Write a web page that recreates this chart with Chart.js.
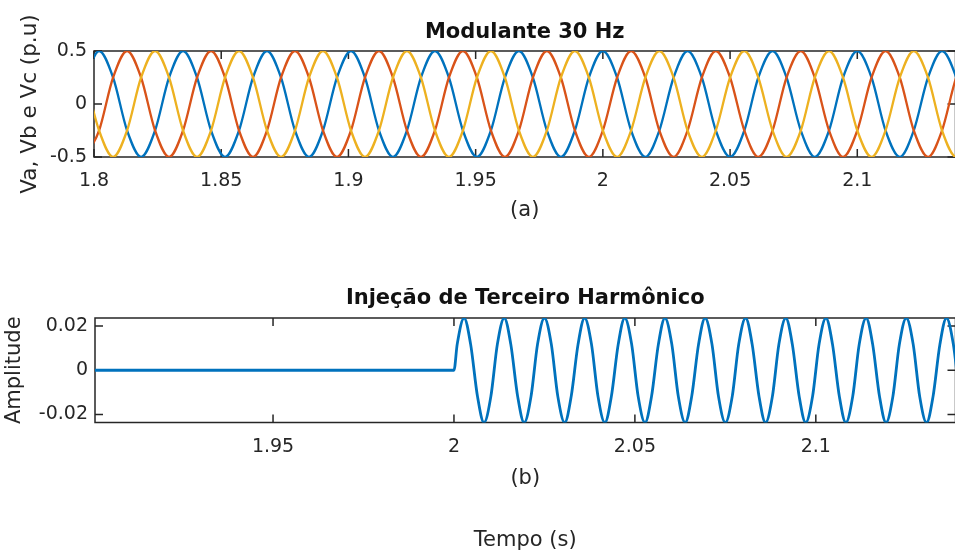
<!DOCTYPE html>
<html lang="pt-BR">
<head>
<meta charset="utf-8">
<title>Modulante 30 Hz</title>
<script src="https://cdn.jsdelivr.net/npm/chart.js@4.4.1/dist/chart.umd.min.js"></script>
<style>
  html, body { margin: 0; padding: 0; background: #fff; }
  body { width: 955px; height: 559px; position: relative; overflow: hidden; }
  canvas { position: absolute; left: 0; }
  #grafico-modulante { top: 0; }
  #grafico-harmonico { top: 240px; }
</style>
</head>
<body>
<canvas id="grafico-modulante" width="960" height="240"></canvas>
<canvas id="grafico-harmonico" width="960" height="319"></canvas>
<script>
// tensões de fase (p.u), uma amostra a cada 60 graus da fundamental
const tempo = [
  1.7965,
  1.8020, 1.8075, 1.8130, 1.8185, 1.8240, 1.8295,
  1.8350, 1.8405, 1.8460, 1.8515, 1.8570, 1.8625,
  1.8680, 1.8735, 1.8790, 1.8845, 1.8900, 1.8955,
  1.9010, 1.9065, 1.9120, 1.9175, 1.9230, 1.9285,
  1.9340, 1.9395, 1.9450, 1.9505, 1.9560, 1.9615,
  1.9670, 1.9725, 1.9780, 1.9835, 1.9890, 1.9945,
  2.0000, 2.0056, 2.0111, 2.0167, 2.0222, 2.0278,
  2.0333, 2.0389, 2.0444, 2.0500, 2.0556, 2.0611,
  2.0667, 2.0722, 2.0778, 2.0833, 2.0889, 2.0944,
  2.1000, 2.1056, 2.1111, 2.1167, 2.1222, 2.1278,
  2.1333, 2.1389, 2.1444
];
const va = [
  0.25,
  0.5, 0.25, -0.25, -0.5, -0.25, 0.25,
  0.5, 0.25, -0.25, -0.5, -0.25, 0.25,
  0.5, 0.25, -0.25, -0.5, -0.25, 0.25,
  0.5, 0.25, -0.25, -0.5, -0.25, 0.25,
  0.5, 0.25, -0.25, -0.5, -0.25, 0.25,
  0.5, 0.25, -0.25, -0.5, -0.25, 0.25,
  0.5, 0.25, -0.25, -0.5, -0.25, 0.25,
  0.5, 0.25, -0.25, -0.5, -0.25, 0.25,
  0.5, 0.25, -0.25, -0.5, -0.25, 0.25,
  0.5, 0.25, -0.25, -0.5, -0.25, 0.25,
  0.5, 0.25, -0.25
];
const vb = [
  -0.5,
  -0.25, 0.25, 0.5, 0.25, -0.25, -0.5,
  -0.25, 0.25, 0.5, 0.25, -0.25, -0.5,
  -0.25, 0.25, 0.5, 0.25, -0.25, -0.5,
  -0.25, 0.25, 0.5, 0.25, -0.25, -0.5,
  -0.25, 0.25, 0.5, 0.25, -0.25, -0.5,
  -0.25, 0.25, 0.5, 0.25, -0.25, -0.5,
  -0.25, 0.25, 0.5, 0.25, -0.25, -0.5,
  -0.25, 0.25, 0.5, 0.25, -0.25, -0.5,
  -0.25, 0.25, 0.5, 0.25, -0.25, -0.5,
  -0.25, 0.25, 0.5, 0.25, -0.25, -0.5,
  -0.25, 0.25, 0.5
];
const vc = [
  0.25,
  -0.25, -0.5, -0.25, 0.25, 0.5, 0.25,
  -0.25, -0.5, -0.25, 0.25, 0.5, 0.25,
  -0.25, -0.5, -0.25, 0.25, 0.5, 0.25,
  -0.25, -0.5, -0.25, 0.25, 0.5, 0.25,
  -0.25, -0.5, -0.25, 0.25, 0.5, 0.25,
  -0.25, -0.5, -0.25, 0.25, 0.5, 0.25,
  -0.25, -0.5, -0.25, 0.25, 0.5, 0.25,
  -0.25, -0.5, -0.25, 0.25, 0.5, 0.25,
  -0.25, -0.5, -0.25, 0.25, 0.5, 0.25,
  -0.25, -0.5, -0.25, 0.25, 0.5, 0.25,
  -0.25, -0.5, -0.25
];

// terceiro harmônico (90 Hz), nulo até 2 s
const tempoH = [
  1.8900, 2.0000,
  2.0009, 2.0028, 2.0046, 2.0065, 2.0083, 2.0102,
  2.0120, 2.0139, 2.0157, 2.0176, 2.0194, 2.0213,
  2.0231, 2.0250, 2.0269, 2.0287, 2.0306, 2.0324,
  2.0343, 2.0361, 2.0380, 2.0398, 2.0417, 2.0435,
  2.0454, 2.0472, 2.0491, 2.0509, 2.0528, 2.0546,
  2.0565, 2.0583, 2.0602, 2.0620, 2.0639, 2.0657,
  2.0676, 2.0694, 2.0713, 2.0731, 2.0750, 2.0769,
  2.0787, 2.0806, 2.0824, 2.0843, 2.0861, 2.0880,
  2.0898, 2.0917, 2.0935, 2.0954, 2.0972, 2.0991,
  2.1009, 2.1028, 2.1046, 2.1065, 2.1083, 2.1102,
  2.1120, 2.1139, 2.1157, 2.1176, 2.1194, 2.1213,
  2.1231, 2.1250, 2.1269, 2.1287, 2.1306, 2.1324,
  2.1343, 2.1361, 2.1380, 2.1398, 2.1417, 2.1435
];
const harmonico = [
  0, 0,
  0.0118, 0.0236, 0.0118, -0.0118, -0.0236, -0.0118,
  0.0118, 0.0236, 0.0118, -0.0118, -0.0236, -0.0118,
  0.0118, 0.0236, 0.0118, -0.0118, -0.0236, -0.0118,
  0.0118, 0.0236, 0.0118, -0.0118, -0.0236, -0.0118,
  0.0118, 0.0236, 0.0118, -0.0118, -0.0236, -0.0118,
  0.0118, 0.0236, 0.0118, -0.0118, -0.0236, -0.0118,
  0.0118, 0.0236, 0.0118, -0.0118, -0.0236, -0.0118,
  0.0118, 0.0236, 0.0118, -0.0118, -0.0236, -0.0118,
  0.0118, 0.0236, 0.0118, -0.0118, -0.0236, -0.0118,
  0.0118, 0.0236, 0.0118, -0.0118, -0.0236, -0.0118,
  0.0118, 0.0236, 0.0118, -0.0118, -0.0236, -0.0118,
  0.0118, 0.0236, 0.0118, -0.0118, -0.0236, -0.0118,
  0.0118, 0.0236, 0.0118, -0.0118, -0.0236, -0.0118
];

const ticksTempoA = [1.8, 1.85, 1.9, 1.95, 2, 2.05, 2.1];
const ticksTensao = [-0.5, 0, 0.5];
const ticksTempoB = [1.95, 2, 2.05, 2.1];
const ticksAmplitude = [-0.02, 0, 0.02];

const COR_EIXO = '#262626';
Chart.defaults.font.family = "'DejaVu Sans', sans-serif";
Chart.defaults.color = COR_EIXO;

function pontos(xs, ys) {
  return xs.map((t, i) => ({ x: t, y: ys[i] }));
}

// caixa do eixo com marcas voltadas para dentro nos quatro lados
const caixaEixos = {
  id: 'caixaEixos',
  beforeDatasetsDraw(chart) {
    const { ctx, chartArea: a, scales } = chart;
    const tam = 8;
    ctx.save();
    ctx.strokeStyle = COR_EIXO;
    ctx.lineWidth = 1.5;
    ctx.strokeRect(a.left, a.top, a.right - a.left, a.bottom - a.top);
    ctx.beginPath();
    scales.x.ticks.forEach(t => {
      const px = scales.x.getPixelForValue(t.value);
      ctx.moveTo(px, a.bottom); ctx.lineTo(px, a.bottom - tam);
      ctx.moveTo(px, a.top); ctx.lineTo(px, a.top + tam);
    });
    scales.y.ticks.forEach(t => {
      const py = scales.y.getPixelForValue(t.value);
      ctx.moveTo(a.left, py); ctx.lineTo(a.left + tam, py);
      ctx.moveTo(a.right, py); ctx.lineTo(a.right - tam, py);
    });
    ctx.stroke();
    ctx.restore();
  }
};

function escalaX(min, max, valores, altura, titulo) {
  return {
    type: 'linear',
    min, max,
    grid: { display: false, drawTicks: false },
    border: { display: false },
    afterBuildTicks: s => { s.ticks = valores.map(v => ({ value: v })); },
    afterFit: s => { s.height = altura; },
    ticks: { font: { size: 19 }, padding: 13, maxRotation: 0, autoSkip: false, callback: v => String(v) },
    title: titulo
  };
}

function escalaY(min, max, valores, largura, titulo) {
  return {
    type: 'linear',
    min, max,
    grid: { display: false, drawTicks: false },
    border: { display: false },
    afterBuildTicks: s => { s.ticks = valores.map(v => ({ value: v })); },
    afterFit: s => { s.width = largura; },
    ticks: { font: { size: 19 }, padding: 7, autoSkip: false, callback: v => String(v) },
    title: titulo
  };
}

function tituloGrafico(texto, topo, base) {
  return {
    display: true,
    text: texto,
    fullSize: false,
    color: '#111',
    font: { size: 21, weight: 'bold', lineHeight: 1.2 },
    padding: { top: topo, bottom: base }
  };
}

function linha(rotulo, xs, ys, cor, espessura, ordem) {
  return {
    label: rotulo,
    data: pontos(xs, ys),
    borderColor: cor,
    borderWidth: espessura,
    pointRadius: 0,
    cubicInterpolationMode: 'monotone',
    order: ordem
  };
}

const opcoesBase = {
  responsive: false,
  animation: false,
  events: []
};

new Chart(document.getElementById('grafico-modulante'), {
  type: 'line',
  data: {
    datasets: [
      linha('Va', tempo, va, '#0072BD', 2.3, 3),
      linha('Vb', tempo, vb, '#D95319', 2.3, 2),
      linha('Vc', tempo, vc, '#EDB120', 2.3, 1)
    ]
  },
  options: {
    ...opcoesBase,
    layout: { padding: { left: 0, right: 4.5, top: 0, bottom: 0 } },
    plugins: {
      legend: { display: false },
      tooltip: { enabled: false },
      title: tituloGrafico('Modulante 30 Hz', 20.4, 5.4)
    },
    scales: {
      x: escalaX(1.8, 2.1386, ticksTempoA, 83, {
        display: true, text: '(a)', font: { size: 21, lineHeight: 1.2 }, padding: { top: 0, bottom: 16.4 }
      }),
      y: escalaY(-0.5, 0.5, ticksTensao, 94, {
        display: true, text: 'Va, Vb e Vc (p.u)', font: { size: 21.5, lineHeight: 1.2 }, padding: { top: 17.4, bottom: 0 }
      })
    }
  },
  plugins: [caixaEixos]
});

new Chart(document.getElementById('grafico-harmonico'), {
  type: 'line',
  data: {
    datasets: [
      linha('Terceiro harmônico', tempoH, harmonico, '#0072BD', 2.8, 1)
    ]
  },
  options: {
    ...opcoesBase,
    layout: { padding: { left: 0, right: 4.5, top: 0, bottom: 0 } },
    plugins: {
      legend: { display: false },
      tooltip: { enabled: false },
      title: tituloGrafico('Injeção de Terceiro Harmônico', 46.1, 6.7)
    },
    scales: {
      x: escalaX(1.9008, 2.1386, ticksTempoB, 136.5, {
        display: true, text: ['(b)', '', 'Tempo (s)'], font: { size: 21, lineHeight: '31px' }, padding: { top: 0, bottom: 2.5 }
      }),
      y: escalaY(-0.0236, 0.0236, ticksAmplitude, 95, {
        display: true, text: 'Amplitude', font: { size: 21, lineHeight: 1.2 }, padding: { top: 2.4, bottom: 0 }
      })
    }
  },
  plugins: [caixaEixos]
});
</script>
</body>
</html>
